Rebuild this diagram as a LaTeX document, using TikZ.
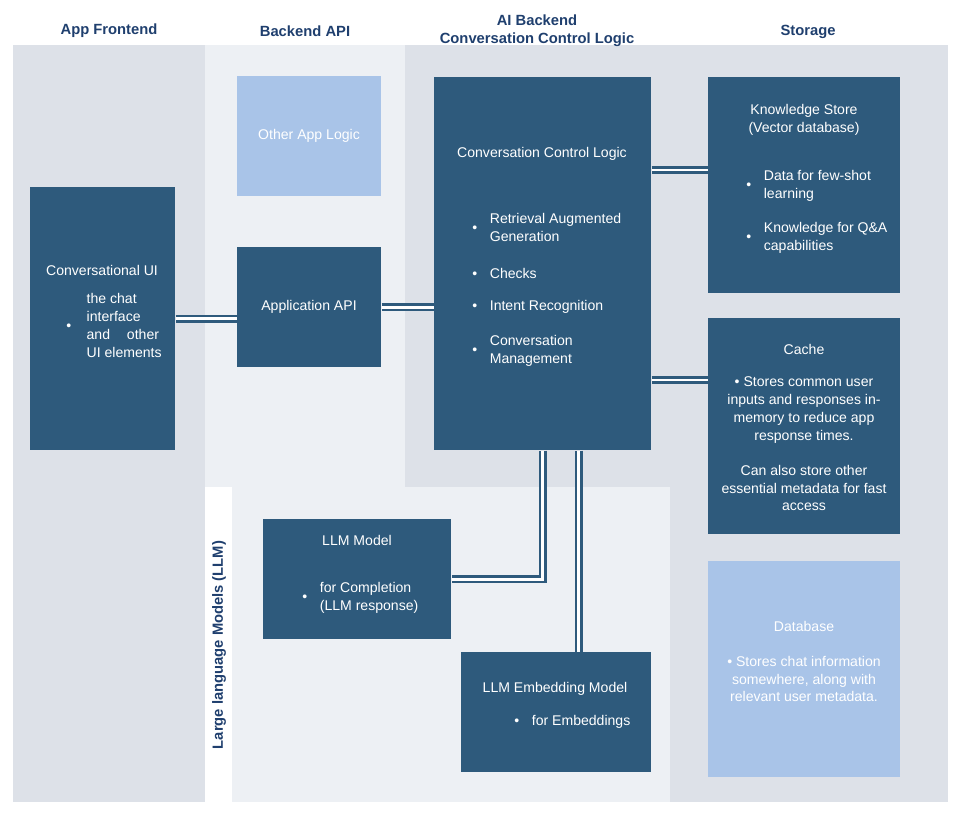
\documentclass[tikz,border=0pt]{standalone}
\usepackage{fontspec}
\setmainfont{Liberation Sans}
\usetikzlibrary{positioning,calc}
\definecolor{boxblue}{RGB}{46,90,124}
\definecolor{paleblue}{RGB}{169,196,232}
\definecolor{colgray}{RGB}{221,225,232}
\definecolor{collight}{RGB}{237,240,244}
\definecolor{headblue}{RGB}{31,63,110}
\begin{document}
\begin{tikzpicture}[
  x=0.025cm, y=-0.025cm,
  font=\fontsize{10}{12.6}\selectfont,
  darkbox/.style={rectangle, draw=none, fill=boxblue, text=white, anchor=north west, inner sep=0pt},
  lightbox/.style={rectangle, draw=none, fill=paleblue, text=white, anchor=north west, inner sep=0pt},
  header/.style={text=headblue, font=\fontsize{10.5}{13}\selectfont\bfseries, align=center},
  txt/.style={text=white, align=left, anchor=west, inner sep=0pt},
  ctxt/.style={text=white, align=center, inner sep=0pt},
  link/.style={draw=boxblue, line width=0.0625cm, double=white, double distance=0.07cm}
]
\useasboundingbox (0,0) rectangle (964,816);
% columns
\fill[colgray] (13,45) rectangle (205,802);
\fill[collight] (205,45) rectangle (405,487);
\fill[colgray] (405,45) rectangle (670,487);
\fill[colgray] (670,45) rectangle (948,802);
\fill[collight] (232,487) rectangle (670,802);
\fill[white] (205,487) rectangle (232,802);

\node[header] (hfront) at (109,31) {App Frontend};
\node[header] (hapi) at (305,31) {Backend API};
\node[header] (hai) at (537,31) {AI Backend\\Conversation Control Logic};
\node[header] (hstore) at (808,32) {Storage};
\node[header, rotate=90] (hllm) at (219,645) {Large language Models (LLM)};

% boxes
\node[darkbox, minimum width=145*0.025cm, minimum height=263*0.025cm] (convui) at (30,187) {};
\node[lightbox, minimum width=144*0.025cm, minimum height=120*0.025cm] (other) at (237,76) {};
\node[darkbox, minimum width=144*0.025cm, minimum height=120*0.025cm] (appapi) at (237,247) {};
\node[darkbox, minimum width=217*0.025cm, minimum height=373*0.025cm] (ccl) at (434,77) {};
\node[darkbox, minimum width=192*0.025cm, minimum height=216*0.025cm] (ks) at (708,77) {};
\node[darkbox, minimum width=192*0.025cm, minimum height=216*0.025cm] (cache) at (708,318) {};
\node[lightbox, minimum width=192*0.025cm, minimum height=216*0.025cm] (db) at (708,561) {};
\node[darkbox, minimum width=188*0.025cm, minimum height=120*0.025cm] (llm) at (263,519) {};
\node[darkbox, minimum width=190*0.025cm, minimum height=120*0.025cm] (emb) at (461,652) {};

% texts
\node[ctxt] (convuit) at (102,270) {Conversational UI};
\node[txt] (convuib) at (66,327) {\textbullet\hspace{1.1em}\begin{tabular}[c]{@{}l@{}}the chat\\interface\\and\hspace{1.2em}other\\UI elements\end{tabular}};
\node[ctxt] (othert) at (309,136) {Other App Logic};
\node[ctxt] (appapit) at (309,307) {Application API};
\node[ctxt] (cclt) at (542,154) {Conversation Control Logic};
\node[txt] (ccl1) at (472,229) {\textbullet\hspace{0.9em}\begin{tabular}[c]{@{}l@{}}Retrieval Augmented\\Generation\end{tabular}};
\node[txt] (ccl2) at (472,273) {\textbullet\hspace{0.9em}Checks};
\node[txt] (ccl3) at (472,307) {\textbullet\hspace{0.9em}Intent Recognition};
\node[txt] (ccl4) at (472,351) {\textbullet\hspace{0.9em}\begin{tabular}[c]{@{}l@{}}Conversation\\Management\end{tabular}};
\node[ctxt] (kst) at (804,120) {Knowledge Store\\(Vector database)};
\node[txt] (ks1) at (746,186) {\textbullet\hspace{0.9em}\begin{tabular}[c]{@{}l@{}}Data for few-shot\\learning\end{tabular}};
\node[txt] (ks2) at (746,238) {\textbullet\hspace{0.9em}\begin{tabular}[c]{@{}l@{}}Knowledge for Q\&A\\capabilities\end{tabular}};
\node[ctxt] (cachet) at (804,349) {Cache};
\node[ctxt] (cache1) at (804,410) {\textbullet\ Stores common user\\inputs and responses in-\\memory to reduce app\\response times.};
\node[ctxt] (cache2) at (804,488) {Can also store other\\essential metadata for fast\\access};
\node[ctxt] (dbt) at (804,626) {Database};
\node[ctxt] (db1) at (804,679) {\textbullet\ Stores chat information\\somewhere, along with\\relevant user metadata.};
\node[ctxt] (llmt) at (357,540) {LLM Model};
\node[txt] (llm1) at (302,598) {\textbullet\hspace{0.9em}\begin{tabular}[c]{@{}l@{}}for Completion\\(LLM response)\end{tabular}};
\node[ctxt] (embt) at (555,689) {LLM Embedding Model};
\node[txt] (emb1) at (514,722) {\textbullet\hspace{0.9em}for Embeddings};

% connectors
\draw[link] (convui.east) -- (convui.east -| appapi.west);
\draw[link] (appapi.east) -- (appapi.east -| ccl.west);
\draw[link] (ccl.east |- 0,170) -- (ks.west |- 0,170);
\draw[link] (ccl.east |- 0,380) -- (cache.west |- 0,380);
\draw[link] (ccl.south) |- (llm.east);
\draw[link] ([xshift=0.9cm]ccl.south) coordinate (embtop) -- (embtop |- emb.north);
\end{tikzpicture}
\end{document}
